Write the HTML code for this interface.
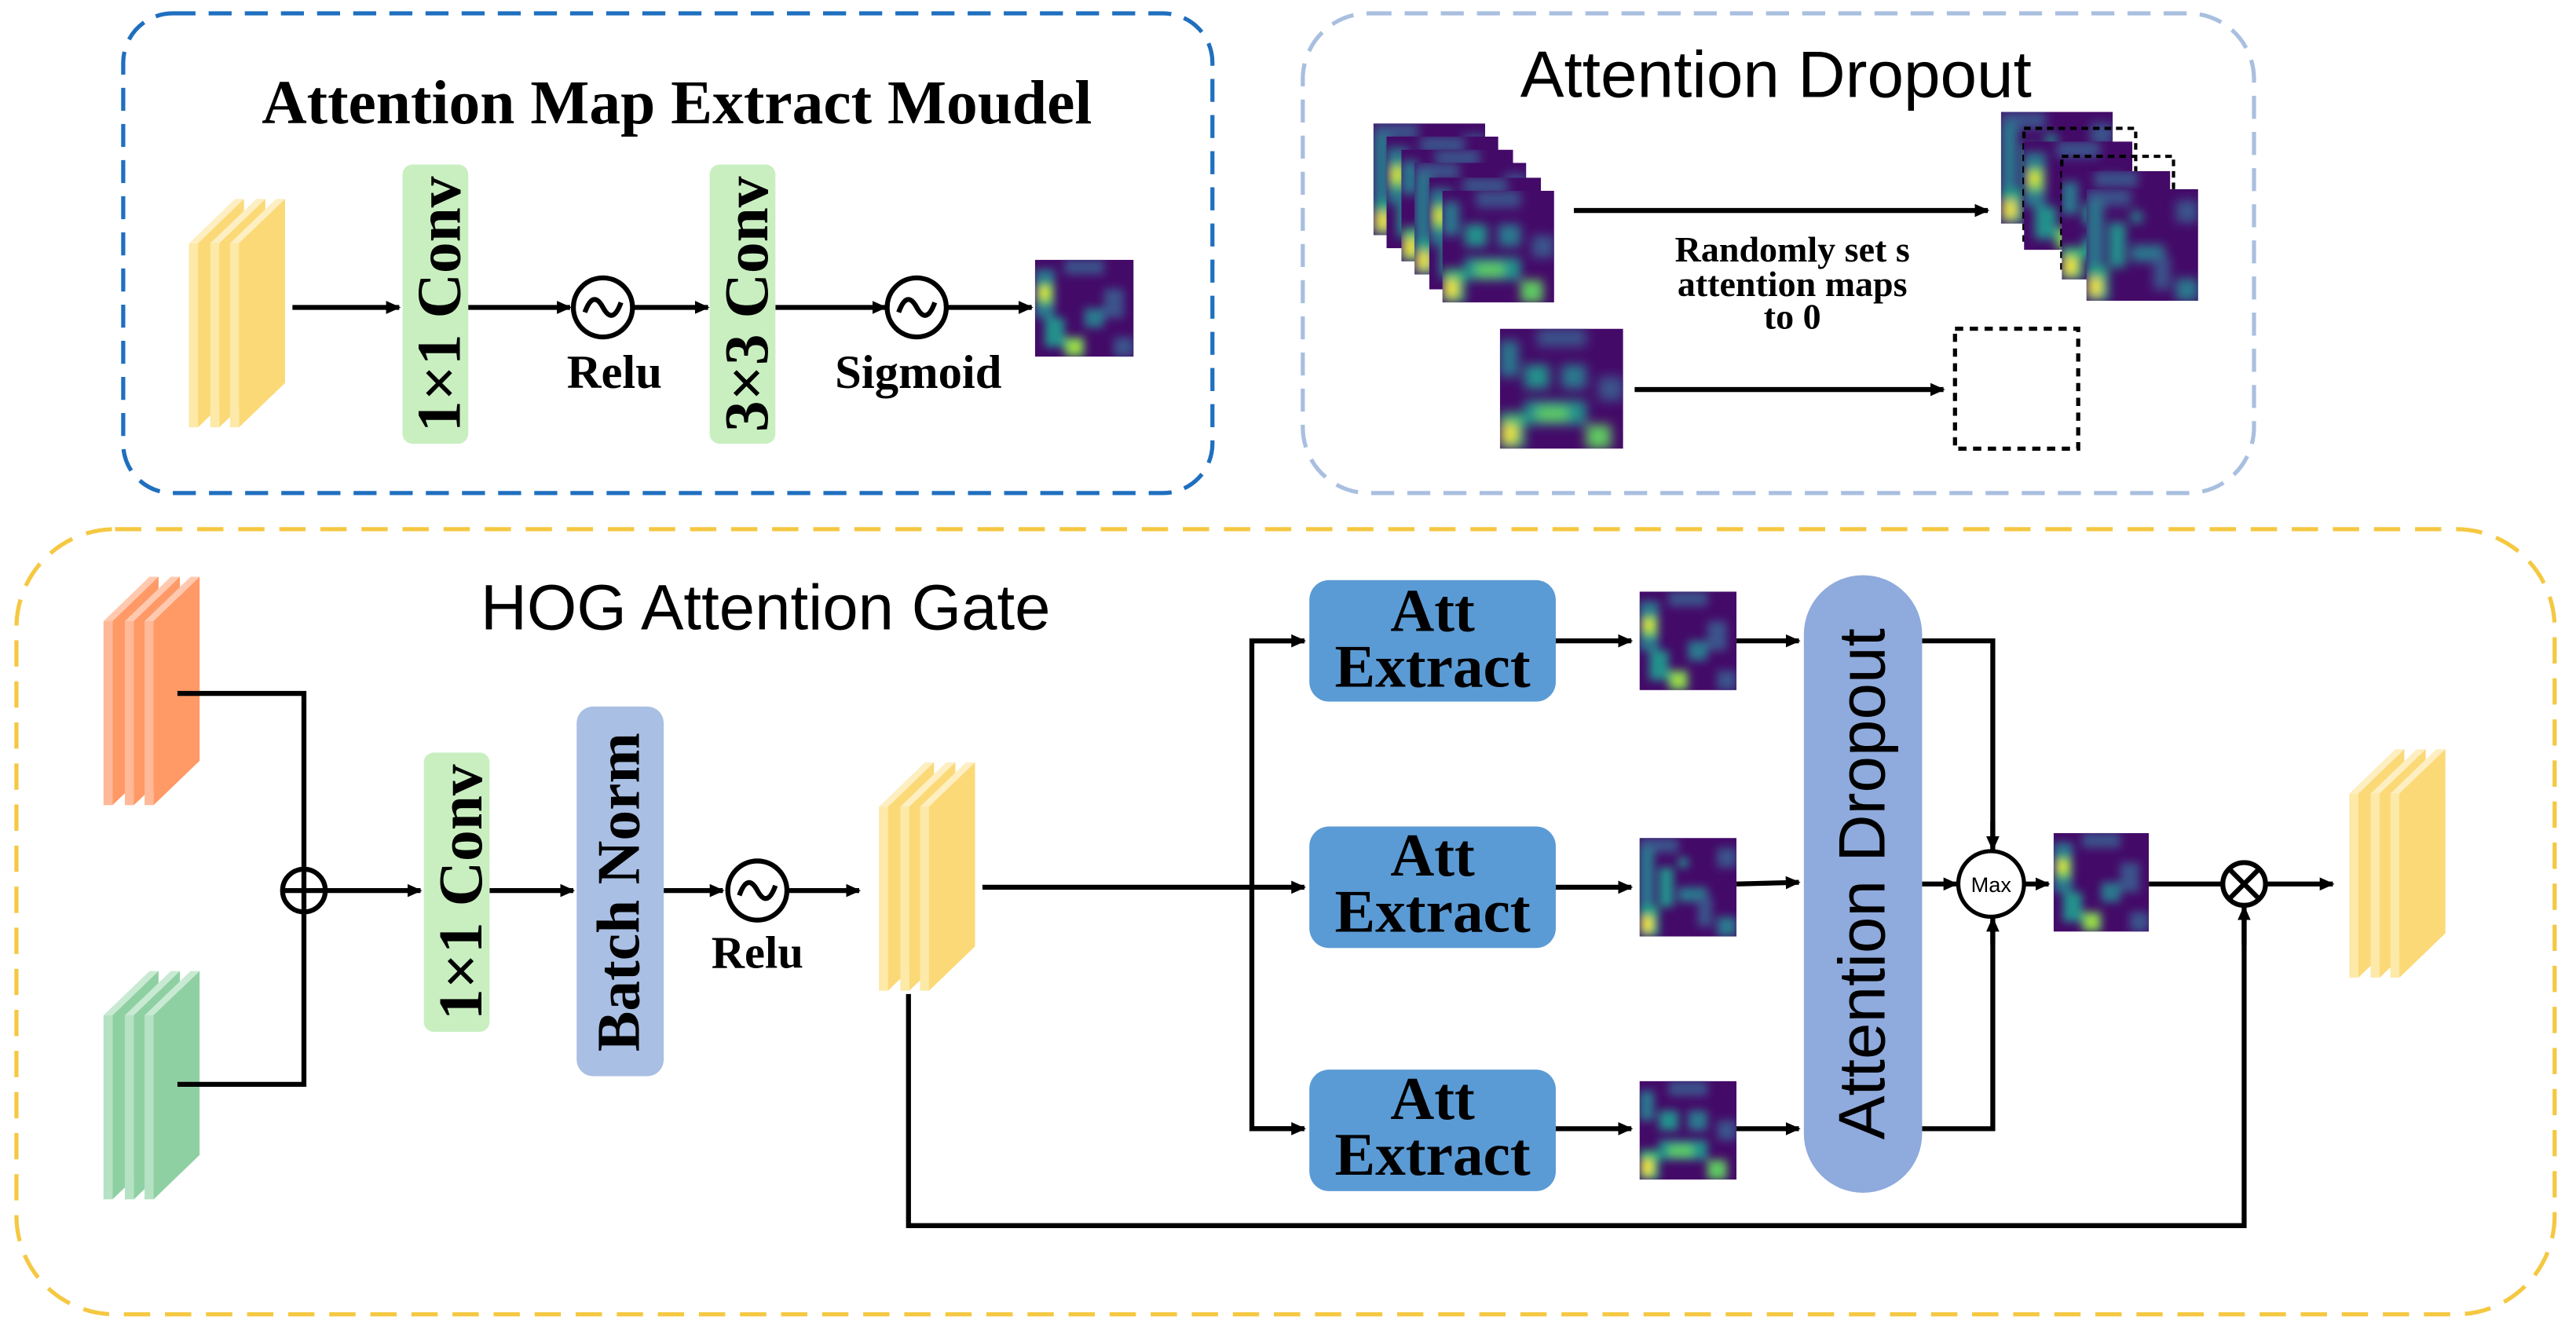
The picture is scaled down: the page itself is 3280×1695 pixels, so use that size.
<!DOCTYPE html>
<html><head><meta charset="utf-8"><style>
html,body{margin:0;padding:0;background:#fff;}
svg{display:block}
.serif{font-family:"Liberation Serif",serif;font-weight:bold;}
.sans{font-family:"Liberation Sans","DejaVu Sans",sans-serif;}
</style></head><body>
<svg width="3280" height="1695" viewBox="0 0 1568 810" xmlns="http://www.w3.org/2000/svg">
<defs>
<marker id="ar" markerWidth="10" markerHeight="10" refX="8" refY="5" orient="auto" markerUnits="userSpaceOnUse">
<path d="M0,1 L9,5 L0,9 z" fill="#000"/></marker>
<filter id="bl" x="-20%" y="-20%" width="140%" height="140%"><feGaussianBlur stdDeviation="0.45"/></filter>
<symbol id="h1" viewBox="0 0 10 10" preserveAspectRatio="none">
<rect width="10" height="10" fill="#440a68"/>
<g filter="url(#bl)">
<rect x="0" y="1" width="2" height="5" fill="#2a788e"/><rect x="0.3" y="2.5" width="1.5" height="2" fill="#7ad151"/>
<rect x="0.5" y="3" width="0.8" height="0.8" fill="#fde725"/>
<rect x="3" y="0" width="4" height="1.5" fill="#3b528b"/><rect x="7" y="3" width="2" height="3" fill="#3b528b"/>
<rect x="1" y="6" width="2" height="3" fill="#21918c"/><rect x="5" y="5" width="2" height="2" fill="#2a788e"/>
<rect x="3" y="8" width="2" height="2" fill="#5ec962"/><rect x="3.5" y="8.5" width="1" height="1" fill="#b5de2b"/>
<rect x="8" y="8" width="2" height="2" fill="#3b528b"/>
</g>
</symbol>
<symbol id="h2" viewBox="0 0 10 10" preserveAspectRatio="none">
<rect width="10" height="10" fill="#440a68"/>
<g filter="url(#bl)">
<rect x="0" y="0" width="4" height="1.5" fill="#3b528b"/><rect x="0" y="1" width="1.5" height="6" fill="#2a788e"/>
<rect x="2" y="3" width="1.5" height="4" fill="#21918c"/><rect x="4" y="5" width="3" height="1.5" fill="#2a788e"/>
<rect x="6" y="6" width="1.5" height="3" fill="#3b528b"/><rect x="0" y="7" width="2" height="3" fill="#22a884"/>
<rect x="0.3" y="8" width="1" height="1.5" fill="#fde725"/><rect x="8" y="1" width="2" height="2" fill="#3b528b"/>
<rect x="4" y="2" width="1" height="1" fill="#21918c"/><rect x="8" y="8" width="2" height="2" fill="#2a788e"/>
</g>
</symbol>
<symbol id="h3" viewBox="0 0 10 10" preserveAspectRatio="none">
<rect width="10" height="10" fill="#440a68"/>
<g filter="url(#bl)">
<rect x="0" y="1" width="1.5" height="3" fill="#2a788e"/><rect x="3" y="0" width="4" height="1.5" fill="#3b528b"/>
<rect x="2" y="3" width="2" height="2" fill="#21918c"/><rect x="5" y="3" width="2" height="2" fill="#2a788e"/>
<rect x="2" y="6" width="5" height="2" fill="#21918c"/><rect x="3" y="6.5" width="2.5" height="1.2" fill="#5ec962"/>
<rect x="0" y="7" width="2" height="3" fill="#35b779"/><rect x="0.3" y="8" width="1" height="1.5" fill="#fde725"/>
<rect x="7" y="8" width="2" height="2" fill="#5ec962"/><rect x="8" y="4" width="2" height="2" fill="#3b528b"/>
</g>
</symbol>
<g id="ysheets">
<g><rect x="0" y="27" width="5.5" height="112" fill="#fde9a8"/><polygon points="0,27 28,0 33.5,0 5.5,27" fill="#fdefc2"/><polygon points="5.5,27 33.5,0 33.5,112 5.5,139" fill="#fcd977"/></g>
<g transform="translate(13,0)"><rect x="0" y="27" width="5.5" height="112" fill="#fde9a8"/><polygon points="0,27 28,0 33.5,0 5.5,27" fill="#fdefc2"/><polygon points="5.5,27 33.5,0 33.5,112 5.5,139" fill="#fcd977"/></g>
<g transform="translate(25,0)"><rect x="0" y="27" width="5.5" height="112" fill="#fde9a8"/><polygon points="0,27 28,0 33.5,0 5.5,27" fill="#fdefc2"/><polygon points="5.5,27 33.5,0 33.5,112 5.5,139" fill="#fcd977"/></g>
</g>
<g id="osheets">
<g><rect x="0" y="27" width="5.5" height="112" fill="#ffb898"/><polygon points="0,27 28,0 33.5,0 5.5,27" fill="#ffc9b0"/><polygon points="5.5,27 33.5,0 33.5,112 5.5,139" fill="#ff9966"/></g>
<g transform="translate(13,0)"><rect x="0" y="27" width="5.5" height="112" fill="#ffb898"/><polygon points="0,27 28,0 33.5,0 5.5,27" fill="#ffc9b0"/><polygon points="5.5,27 33.5,0 33.5,112 5.5,139" fill="#ff9966"/></g>
<g transform="translate(25,0)"><rect x="0" y="27" width="5.5" height="112" fill="#ffb898"/><polygon points="0,27 28,0 33.5,0 5.5,27" fill="#ffc9b0"/><polygon points="5.5,27 33.5,0 33.5,112 5.5,139" fill="#ff9966"/></g>
</g>
<g id="gsheets">
<g><rect x="0" y="27" width="5.5" height="112" fill="#b5e2c3"/><polygon points="0,27 28,0 33.5,0 5.5,27" fill="#c8ead2"/><polygon points="5.5,27 33.5,0 33.5,112 5.5,139" fill="#8fd0a3"/></g>
<g transform="translate(13,0)"><rect x="0" y="27" width="5.5" height="112" fill="#b5e2c3"/><polygon points="0,27 28,0 33.5,0 5.5,27" fill="#c8ead2"/><polygon points="5.5,27 33.5,0 33.5,112 5.5,139" fill="#8fd0a3"/></g>
<g transform="translate(25,0)"><rect x="0" y="27" width="5.5" height="112" fill="#b5e2c3"/><polygon points="0,27 28,0 33.5,0 5.5,27" fill="#c8ead2"/><polygon points="5.5,27 33.5,0 33.5,112 5.5,139" fill="#8fd0a3"/></g>
</g>
</defs>
<rect width="1568" height="810" fill="#fff"/>

<!-- Top-left box -->
<rect x="75" y="8" width="663" height="292" rx="30" fill="none" stroke="#1f6fbf" stroke-width="2.5" stroke-dasharray="14,8"/>
<text x="412" y="75" class="serif" font-size="38" text-anchor="middle">Attention Map Extract Moudel</text>
<use href="#ysheets" transform="translate(115,121)"/>
<g stroke="#000" stroke-width="3" fill="none">
<line x1="178" y1="187" x2="243" y2="187" marker-end="url(#ar)"/>
<line x1="285" y1="187" x2="347" y2="187" marker-end="url(#ar)"/>
<line x1="386" y1="187" x2="431" y2="187" marker-end="url(#ar)"/>
<line x1="472" y1="187" x2="539" y2="187" marker-end="url(#ar)"/>
<line x1="577" y1="187" x2="628" y2="187" marker-end="url(#ar)"/>
<circle cx="367" cy="187" r="18" fill="#fff"/><circle cx="558" cy="187" r="18" fill="#fff"/>
<path d="M356,190 Q361,176 367,187 T378,184"/><path d="M547,190 Q552,176 558,187 T569,184"/>
</g>
<rect x="245" y="100" width="40" height="170" rx="6" fill="#c9efc0"/>
<text transform="translate(280,185) rotate(-90)" class="serif" font-size="38" text-anchor="middle">1×1 Conv</text>
<rect x="432" y="100" width="40" height="170" rx="6" fill="#c9efc0"/>
<text transform="translate(467,185) rotate(-90)" class="serif" font-size="38" text-anchor="middle">3×3 Conv</text>
<text x="374" y="236" class="serif" font-size="29" text-anchor="middle">Relu</text>
<text x="559" y="236" class="serif" font-size="29" text-anchor="middle">Sigmoid</text>
<use href="#h1" x="630" y="158" width="60" height="59"/>

<!-- Top-right box -->
<rect x="793" y="8" width="579" height="292" rx="40" fill="none" stroke="#a9bfe0" stroke-width="2.5" stroke-dasharray="14,8"/>
<text x="1081" y="59" class="sans" font-size="40" text-anchor="middle">Attention Dropout</text>
<use href="#h2" x="836" y="75" width="68" height="68"/>
<use href="#h1" x="844" y="83" width="68" height="68"/>
<use href="#h3" x="853" y="91" width="68" height="68"/>
<use href="#h2" x="861" y="99" width="68" height="68"/>
<use href="#h1" x="870" y="108" width="68" height="68"/>
<use href="#h3" x="878" y="116" width="68" height="68"/>
<line x1="958" y1="128" x2="1210" y2="128" stroke="#000" stroke-width="3" marker-end="url(#ar)"/>
<text x="1091" y="159" class="serif" font-size="22" text-anchor="middle">Randomly set s</text>
<text x="1091" y="180" class="serif" font-size="22" text-anchor="middle">attention maps</text>
<text x="1091" y="200" class="serif" font-size="22" text-anchor="middle">to 0</text>
<use href="#h2" x="1218" y="68" width="68" height="68"/>
<rect x="1232" y="78" width="68" height="68" fill="none" stroke="#000" stroke-width="2" stroke-dasharray="4,3"/>
<use href="#h1" x="1232" y="86" width="66" height="66"/>
<rect x="1255" y="95" width="68" height="68" fill="none" stroke="#000" stroke-width="2" stroke-dasharray="4,3"/>
<use href="#h3" x="1255" y="104" width="66" height="66"/>
<use href="#h2" x="1270" y="115" width="68" height="68"/>
<use href="#h3" x="913" y="200" width="75" height="73"/>
<line x1="995" y1="237" x2="1183" y2="237" stroke="#000" stroke-width="3" marker-end="url(#ar)"/>
<rect x="1190" y="200" width="75" height="73" fill="none" stroke="#000" stroke-width="2.5" stroke-dasharray="5,4"/>

<!-- Bottom box -->
<rect x="10" y="322" width="1545" height="478" rx="60" fill="none" stroke="#f5c842" stroke-width="2.5" stroke-dasharray="16,9"/>
<text x="466" y="383" class="sans" font-size="39" text-anchor="middle">HOG Attention Gate</text>
<use href="#osheets" transform="translate(63,351)"/>
<use href="#gsheets" transform="translate(63,591)"/>
<use href="#ysheets" transform="translate(535,464)"/>
<use href="#ysheets" transform="translate(1430,456)"/>
<g stroke="#000" stroke-width="3" fill="none">
<polyline points="108,422 185,422 185,529"/>
<polyline points="108,660 185,660 185,555"/>
<circle cx="185" cy="542" r="13" fill="#fff"/>
<line x1="172" y1="542" x2="198" y2="542"/><line x1="185" y1="529" x2="185" y2="555"/>
<line x1="198" y1="542" x2="256" y2="542" marker-end="url(#ar)"/>
<line x1="298" y1="542" x2="349" y2="542" marker-end="url(#ar)"/>
<line x1="404" y1="542" x2="440" y2="542" marker-end="url(#ar)"/>
<circle cx="461" cy="542" r="18" fill="#fff"/>
<path d="M450,545 Q455,531 461,542 T472,539"/>
<line x1="480" y1="542" x2="523" y2="542" marker-end="url(#ar)"/>
<line x1="598" y1="540" x2="794" y2="540" marker-end="url(#ar)"/>
<polyline points="794,390 762,390 762,687 794,687"/>
<line x1="762" y1="390" x2="794" y2="390" marker-end="url(#ar)"/>
<line x1="762" y1="687" x2="794" y2="687" marker-end="url(#ar)"/>
<line x1="947" y1="390" x2="993" y2="390" marker-end="url(#ar)"/>
<line x1="947" y1="540" x2="993" y2="540" marker-end="url(#ar)"/>
<line x1="947" y1="687" x2="993" y2="687" marker-end="url(#ar)"/>
<line x1="1057" y1="390" x2="1095" y2="390" marker-end="url(#ar)"/>
<line x1="1057" y1="538" x2="1095" y2="537" marker-end="url(#ar)"/>
<line x1="1057" y1="687" x2="1095" y2="687" marker-end="url(#ar)"/>
<polyline points="1170,390 1213,390 1213,516"/>
<line x1="1213" y1="500" x2="1213" y2="517" marker-end="url(#ar)"/>
<polyline points="1170,687 1213,687 1213,560"/>
<line x1="1213" y1="575" x2="1213" y2="559" marker-end="url(#ar)"/>
<line x1="1170" y1="538" x2="1191" y2="538" marker-end="url(#ar)"/>
<line x1="1232" y1="538" x2="1247" y2="538" marker-end="url(#ar)"/>
<line x1="1308" y1="538" x2="1353" y2="538"/>
<circle cx="1366" cy="538" r="13" fill="#fff"/>
<line x1="1357" y1="529" x2="1375" y2="547"/><line x1="1375" y1="529" x2="1357" y2="547"/>
<line x1="1379" y1="538" x2="1420" y2="538" marker-end="url(#ar)"/>
<polyline points="553,605 553,746 1366,746 1366,560"/>
<line x1="1366" y1="575" x2="1366" y2="552" marker-end="url(#ar)"/>
</g>
<circle cx="1212" cy="538" r="20" fill="#fff" stroke="#000" stroke-width="2.5"/>
<text x="1212" y="543" class="sans" font-size="13" text-anchor="middle">Max</text>
<rect x="258" y="458" width="40" height="170" rx="6" fill="#c9efc0"/>
<text transform="translate(293,543) rotate(-90)" class="serif" font-size="38" text-anchor="middle">1×1 Conv</text>
<rect x="351" y="430" width="53" height="225" rx="10" fill="#a9bfe3"/>
<text transform="translate(389,543) rotate(-90)" class="serif" font-size="37" text-anchor="middle">Batch Norm</text>
<text x="461" y="589" class="serif" font-size="28" text-anchor="middle">Relu</text>
<g class="serif" font-size="37" text-anchor="middle">
<rect x="797" y="353" width="150" height="74" rx="12" fill="#5b9bd5"/>
<text x="872" y="384">Att</text><text x="872" y="418">Extract</text>
<rect x="797" y="503" width="150" height="74" rx="12" fill="#5b9bd5"/>
<text x="872" y="533">Att</text><text x="872" y="567">Extract</text>
<rect x="797" y="651" width="150" height="74" rx="12" fill="#5b9bd5"/>
<text x="872" y="681">Att</text><text x="872" y="715">Extract</text>
</g>
<use href="#h1" x="998" y="360" width="59" height="60"/>
<use href="#h2" x="998" y="510" width="59" height="60"/>
<use href="#h3" x="998" y="658" width="59" height="60"/>
<use href="#h1" x="1250" y="507" width="58" height="60"/>
<rect x="1098" y="350" width="72" height="376" rx="36" fill="#8faadc"/>
<text transform="translate(1147,538) rotate(-90)" class="sans" font-size="40" text-anchor="middle">Attention Dropout</text>
</svg>
</body></html>
